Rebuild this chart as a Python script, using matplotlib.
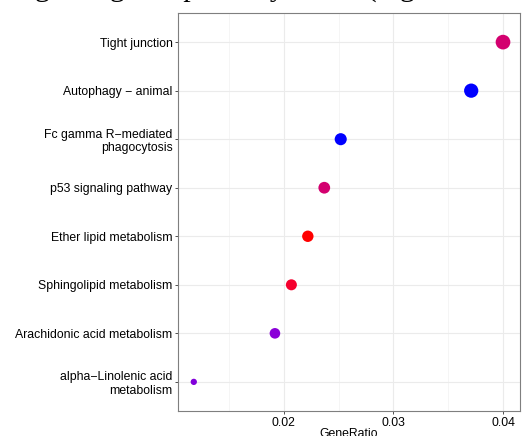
import matplotlib
matplotlib.use("Agg")
from matplotlib import pyplot as plt
from matplotlib.colors import LinearSegmentedColormap, Normalize
from matplotlib.ticker import MultipleLocator
import numpy as np

# pathway terms, top to bottom as in the picture
terms = ["Tight junction", "Autophagy \u2212 animal", "Fc gamma R\u2212mediated\nphagocytosis",
         "p53 signaling pathway", "Ether lipid metabolism", "Sphingolipid metabolism",
         "Arachidonic acid metabolism", "alpha\u2212Linolenic acid\nmetabolism"]
gene_ratio = [0.0400, 0.0371, 0.0252, 0.0237, 0.0222, 0.0207, 0.0192, 0.0118]
counts = [27, 25, 17, 16, 15, 14, 13, 8]
padj = [0.020, 0.040, 0.040, 0.020, 0.010, 0.012, 0.033, 0.0335]

title = "Signaling and pathway terms (regulated at the mRNA level)"

plt.rcParams['font.family'] = ['Liberation Sans', 'DejaVu Sans']

fig = plt.figure(figsize=(5.25, 4.36), dpi=100)
ax = fig.add_axes([178/525, 1 - 411/436, (520-178)/525, (411-13)/436])

# red -> blue gradient (ggplot-like, through magenta/purple)
cmap = LinearSegmentedColormap.from_list("rb", [(0, "#FF0000"), (0.07, "#F40030"), (0.33, "#D4006E"),
                                                (0.77, "#8A00D8"), (1, "#0000FF")])
norm = Normalize(min(padj), max(padj))

# area-like size scale (diameter in px)
c = np.array(counts, dtype=float)
diam = 6.3 + 8.4 * np.sqrt((c - c.min()) / (c.max() - c.min()))
sizes = (diam / (100 / 72)) ** 2

ypos = np.arange(len(terms))[::-1]
ax.scatter(gene_ratio, ypos, s=sizes, c=padj, cmap=cmap, norm=norm, linewidths=0, zorder=3)

ax.set_xlim(0.01036, 0.04155)
ax.set_ylim(-0.6, len(terms) - 1 + 0.6)
ax.set_yticks(ypos)
ax.set_yticklabels(terms, fontsize=8.8, color="black", linespacing=1.15)
ax.xaxis.set_minor_locator(MultipleLocator(0.005))
ax.set_xticks([0.02, 0.03, 0.04])
ax.set_xticklabels(["0.02", "0.03", "0.04"], fontsize=8.8, color="black")

ax.grid(True, which="major", color="#EBEBEB", linewidth=0.8, zorder=0)
ax.grid(True, which="minor", axis="x", color="#F2F2F2", linewidth=0.5, zorder=0)
ax.set_axisbelow(True)
ax.tick_params(axis="both", which="major", length=2.5, width=0.6, color="#333333", pad=1.5)
ax.tick_params(axis="x", which="minor", length=0)
for sp in ax.spines.values():
    sp.set_color("#7F7F7F")
    sp.set_linewidth(0.8)

fig.text(349/525, 1 - 428/436, "GeneRatio", ha="center", va="top", fontsize=8.8, color="black")
# title sits above the visible area, only its descenders show
fig.text(9.5/525, 1 + 4.5/436, title, ha="left", va="baseline", fontsize=21.6,
         family=["Liberation Serif", "DejaVu Serif"])

fig.savefig("out.png", dpi=100)
